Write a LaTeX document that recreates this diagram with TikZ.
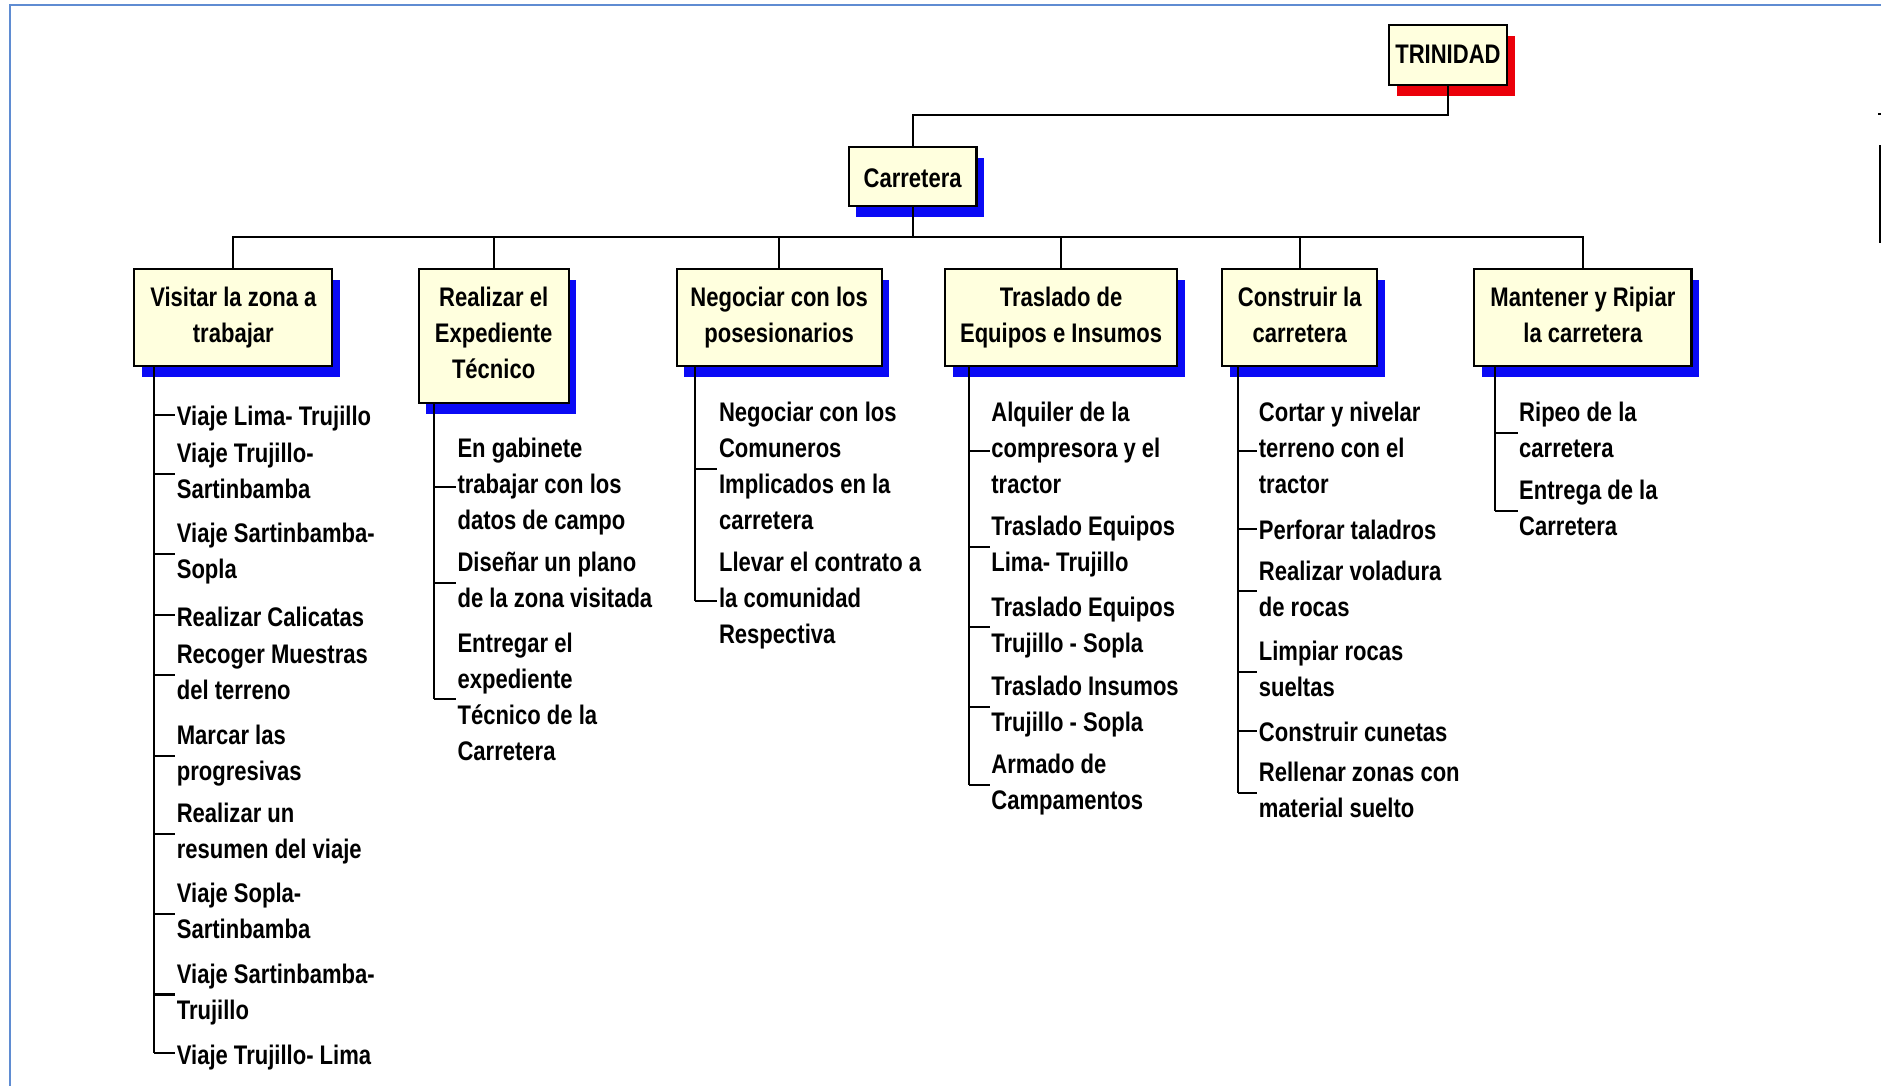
\documentclass[tikz,border=0pt]{standalone}
\usepackage{fontspec}
\setmainfont{Liberation Sans}[FakeStretch=0.82]
\usetikzlibrary{shadows}

\definecolor{boxfill}{RGB}{255,255,222}
\definecolor{shadowblue}{RGB}{10,10,245}
\definecolor{shadowred}{RGB}{235,0,10}
\definecolor{framecol}{RGB}{95,140,210}

% strut that keeps every text block centred on its visual middle
\newcommand{\lnstrut}{\rule[-2.5pt]{0pt}{14pt}}

\begin{document}
\begin{tikzpicture}[x=0.5pt,y=-0.5pt,
  every node/.style={font=\bfseries\fontsize{11.2}{15}\selectfont},
  boxbase/.style={draw=black, line width=0.85pt, fill=boxfill, align=center,
    inner sep=0pt, execute at begin node=\lnstrut, execute at end node=\lnstrut},
  wbsbox/.style={boxbase, general shadow={fill=shadowblue, shadow xshift=3.2pt, shadow yshift=-4.5pt}},
  rootbox/.style={boxbase, general shadow={fill=shadowred, shadow xshift=3.2pt, shadow yshift=-4.7pt}},
  item/.style={anchor=west, align=left, inner sep=0pt,
    execute at begin node=\lnstrut, execute at end node=\lnstrut},
  link/.style={draw=black, line width=0.85pt}
]
\useasboundingbox (0,0) rectangle (1568,905);

% page frame
\draw[framecol, line width=0.9pt] (8.3,905) -- (8.3,4.2) -- (1568,4.2);
% cut edge at the right margin
\draw[black, line width=1.3pt] (1567.2,121) -- (1567.2,202.5);
\draw[black, line width=0.9pt] (1565.5,95) -- (1568,95);

% ---------- boxes ----------
\node[rootbox, minimum width=49.25pt, minimum height=25pt] (tri) at (1207,46) {\raisebox{1pt}{TRINIDAD}};
\node[wbsbox, minimum width=53.25pt, minimum height=24.5pt] (car) at (760.75,147) {Carretera};

\node[wbsbox, minimum width=82.5pt, minimum height=40.5pt] (vis) at (194.5,264.5) {Visitar la zona a\\trabajar};
\node[wbsbox, minimum width=62.5pt, minimum height=56pt] (rea) at (411.5,280) {Realizar el\\Expediente\\Técnico};
\node[wbsbox, minimum width=85.5pt, minimum height=40.5pt] (neg) at (649.5,264.5) {Negociar con los\\posesionarios};
\node[wbsbox, minimum width=96.5pt, minimum height=40.5pt] (tra) at (884.5,264.5) {Traslado de\\Equipos e Insumos};
\node[wbsbox, minimum width=64.5pt, minimum height=40.5pt] (con) at (1083.5,264.5) {Construir la\\carretera};
\node[wbsbox, minimum width=90.5pt, minimum height=40.5pt] (man) at (1319.5,264.5) {Mantener y Ripiar\\la carretera};

% ---------- tree connectors ----------
\coordinate (topbus) at (0,96);
\coordinate (bus) at (0,197.5);
\draw[link] (tri.south) -- (tri.south |- topbus) -| (car.north);
\foreach \b in {vis,rea,neg,tra,con,man}
  \draw[link] (car.south) -- (car.south |- bus) -| (\b.north);

% ---------- activity lists ----------
\node[item] (a1) at (147,346) {Viaje Lima- Trujillo};
\node[item] (a2) at (147,395) {Viaje Trujillo-\\Sartinbamba};
\node[item] (a3) at (147,462) {Viaje Sartinbamba-\\Sopla};
\node[item] (a4) at (147,513) {Realizar Calicatas};
\node[item] (a5) at (147,563) {Recoger Muestras\\del terreno};
\node[item] (a6) at (147,630) {Marcar las\\progresivas};
\node[item] (a7) at (147,695) {Realizar un\\resumen del viaje};
\node[item] (a8) at (147,762) {Viaje Sopla-\\Sartinbamba};
\node[item] (a9) at (147,829) {Viaje Sartinbamba-\\Trujillo};
\node[item] (a10) at (147,878) {Viaje Trujillo- Lima};

\node[item] (b1) at (381,406) {En gabinete\\trabajar con los\\datos de campo};
\node[item] (b2) at (381,486) {Diseñar un plano\\de la zona visitada};
\node[item] (b3) at (381,583) {Entregar el\\expediente\\Técnico de la\\Carretera};

\node[item] (c1) at (599,391) {Negociar con los\\Comuneros\\Implicados en la\\carretera};
\node[item] (c2) at (599,501) {Llevar el contrato a\\la comunidad\\Respectiva};

\node[item] (d1) at (826,376) {Alquiler de la\\compresora y el\\tractor};
\node[item] (d2) at (826,456) {Traslado Equipos\\Lima- Trujillo};
\node[item] (d3) at (826,523) {Traslado Equipos\\Trujillo - Sopla};
\node[item] (d4) at (826,589) {Traslado Insumos\\Trujillo - Sopla};
\node[item] (d5) at (826,654) {Armado de\\Campamentos};

\node[item] (e1) at (1049,376) {Cortar y nivelar\\terreno con el\\tractor};
\node[item] (e2) at (1049,441) {Perforar taladros};
\node[item] (e3) at (1049,493) {Realizar voladura\\de rocas};
\node[item] (e4) at (1049,560) {Limpiar rocas\\sueltas};
\node[item] (e5) at (1049,609) {Construir cunetas};
\node[item] (e6) at (1049,661) {Rellenar zonas con\\material suelto};

\node[item] (f1) at (1266,361) {Ripeo de la\\carretera};
\node[item] (f2) at (1266,426) {Entrega de la\\Carretera};

% spines and ticks
\coordinate (s1) at (128,0);
\coordinate (s2) at (362,0);
\coordinate (s3) at (579,0);
\coordinate (s4) at (808,0);
\coordinate (s5) at (1032,0);
\coordinate (s6) at (1246,0);

\draw[link] (s1 |- vis.south) -- (s1 |- a10.west);
\draw[link] (s2 |- rea.south) -- (s2 |- b3.west);
\draw[link] (s3 |- neg.south) -- (s3 |- c2.west);
\draw[link] (s4 |- tra.south) -- (s4 |- d5.west);
\draw[link] (s5 |- con.south) -- (s5 |- e6.west);
\draw[link] (s6 |- man.south) -- (s6 |- f2.west);

\foreach \n in {a1,a2,a3,a4,a5,a6,a7,a8,a9,a10}
  \draw[link] (s1 |- \n.west) -- ([xshift=-0.5pt]\n.west);
\foreach \n in {b1,b2,b3}
  \draw[link] (s2 |- \n.west) -- ([xshift=-0.5pt]\n.west);
\foreach \n in {c1,c2}
  \draw[link] (s3 |- \n.west) -- ([xshift=-0.5pt]\n.west);
\foreach \n in {d1,d2,d3,d4,d5}
  \draw[link] (s4 |- \n.west) -- ([xshift=-0.5pt]\n.west);
\foreach \n in {e1,e2,e3,e4,e5,e6}
  \draw[link] (s5 |- \n.west) -- ([xshift=-0.5pt]\n.west);
\foreach \n in {f1,f2}
  \draw[link] (s6 |- \n.west) -- ([xshift=-0.5pt]\n.west);
\end{tikzpicture}
\end{document}
